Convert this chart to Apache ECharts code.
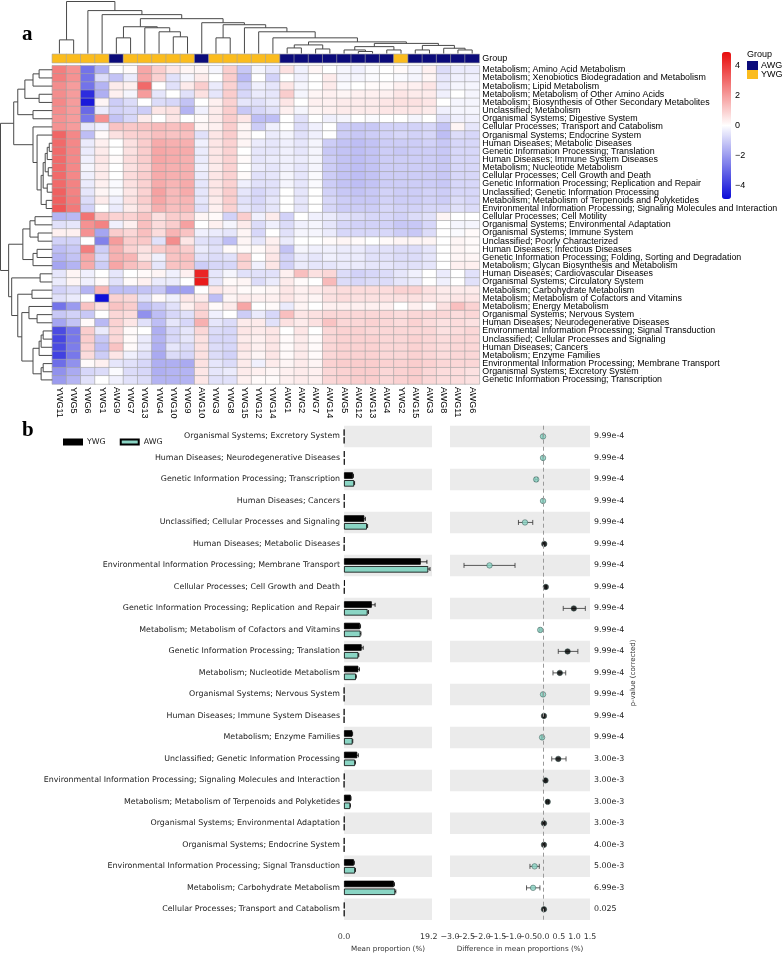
<!DOCTYPE html>
<html><head><meta charset="utf-8">
<script src="https://cdn.jsdelivr.net/npm/echarts@6/dist/echarts.min.js"></script>
<style>html,body{margin:0;padding:0;background:#fff}#c{width:784px;height:958px}</style>
</head><body><div id="c"></div><script>
// ---------- Panel a data ----------
const samples = ['YWG11','YWG5','YWG6','YWG1','AWG9','YWG7','YWG13','YWG4','YWG10','YWG9','AWG10','YWG3','YWG8','YWG15','YWG12','YWG14','AWG1','AWG2','AWG7','AWG14','AWG5','AWG12','AWG13','AWG4','YWG2','AWG15','AWG3','AWG8','AWG11','AWG6'];
const groupNames = ['AWG','YWG'];
const pathways = [
'Metabolism; Amino Acid Metabolism','Metabolism; Xenobiotics Biodegradation and Metabolism','Metabolism; Lipid Metabolism','Metabolism; Metabolism of Other Amino Acids','Metabolism; Biosynthesis of Other Secondary Metabolites','Unclassified; Metabolism','Organismal Systems; Digestive System','Cellular Processes; Transport and Catabolism','Organismal Systems; Endocrine System','Human Diseases; Metabolic Diseases','Genetic Information Processing; Translation','Human Diseases; Immune System Diseases','Metabolism; Nucleotide Metabolism','Cellular Processes; Cell Growth and Death','Genetic Information Processing; Replication and Repair','Unclassified; Genetic Information Processing','Metabolism; Metabolism of Terpenoids and Polyketides','Environmental Information Processing; Signaling Molecules and Interaction','Cellular Processes; Cell Motility','Organismal Systems; Environmental Adaptation','Organismal Systems; Immune System','Unclassified; Poorly Characterized','Human Diseases; Infectious Diseases','Genetic Information Processing; Folding, Sorting and Degradation','Metabolism; Glycan Biosynthesis and Metabolism','Human Diseases; Cardiovascular Diseases','Organismal Systems; Circulatory System','Metabolism; Carbohydrate Metabolism','Metabolism; Metabolism of Cofactors and Vitamins','Metabolism; Energy Metabolism','Organismal Systems; Nervous System','Human Diseases; Neurodegenerative Diseases','Environmental Information Processing; Signal Transduction','Unclassified; Cellular Processes and Signaling','Human Diseases; Cancers','Metabolism; Enzyme Families','Environmental Information Processing; Membrane Transport','Organismal Systems; Excretory System','Genetic Information Processing; Transcription'];
const heat = [
[2.6,2.2,-2.8,-1.6,0.0,0.1,1.8,1.0,0.5,0.2,0.2,-0.2,1.0,-1.1,-0.2, -0.5,0.6,-0.3,0.2,0.0,-0.2,-0.3,-0.1,0.0,0.1,-0.2,0.3,-0.7,-0.4,-0.4],
[2.6,2.2,-2.8,-0.7,-1.2,-0.4,1.8,0.9,-0.6,-0.2,0.4,0.0,1.0,-1.4,0.0, -0.9,0.0,-0.3,0.0,0.4,-0.2,-0.2,-0.1,0.0,-0.1,-0.2,0.2,-0.5,-0.3,-0.3],
[2.3,2.0,-2.8,-1.5,0.4,0.3,3.0,0.0,-0.6,0.4,1.0,-0.4,0.9,-1.0,-0.3, -0.5,0.5,-0.2,0.0,0.4,-0.1,0.0,0.1,0.1,0.3,0.3,0.5,-0.4,-0.2,-0.2],
[2.3,2.0,-4.2,-1.6,0.3,-0.2,2.0,-0.5,0.0,-0.6,0.6,-0.5,1.0,-0.8,-0.4, -0.5,1.0,-0.2,0.2,0.3,0.2,0.3,0.3,0.3,0.5,0.4,0.4,-0.3,0.0,-0.2],
[2.4,2.0,-4.6,0.2,-1.0,-0.7,0.0,-0.7,-0.8,-1.2,0.0,0.3,0.9,-0.5,-0.6, -0.4,0.5,0.0,0.3,0.3,0.4,0.4,0.4,0.5,0.6,0.6,0.5,0.0,-0.2,-0.2],
[2.3,2.0,-3.0,-0.4,-0.9,-0.8,-1.0,0.5,0.6,-1.5,-0.3,0.4,1.0,-1.1,-0.8, -0.6,0.3,-0.2,0.2,0.3,0.4,0.4,0.4,0.5,0.5,0.5,0.4,-0.3,-0.2,-0.2],
[2.2,2.0,-2.7,2.2,-1.2,-0.8,0.4,0.0,0.5,0.0,0.1,0.4,1.0,0.5,-1.3, -1.3,0.0,-0.6,0.0,-0.3,-0.2,0.0,-0.1,0.0,0.0,-0.2,0.0,-0.6,-0.3,-0.3],
[2.2,2.0,-0.5,-0.3,1.2,1.1,1.2,1.4,1.3,1.5,0.2,0.3,1.0,0.2,-1.0, -0.3,0.0,-0.7,-0.3,0.0,-1.0,-1.1,-1.1,-0.9,-0.9,-0.9,-0.8,-1.2,0.2,-0.5],
[3.1,2.4,-1.3,0.1,0.6,0.9,1.0,1.3,1.2,1.3,-0.6,0.5,1.0,0.2,0.0, -0.4,-0.2,-0.6,-0.3,0.0,-1.0,-1.1,-1.0,-0.9,-0.8,-0.9,-0.8,-1.3,-0.7,-0.8],
[3.0,2.4,-0.4,0.3,0.0,0.6,1.0,1.7,1.6,1.6,-0.3,0.5,0.9,0.2,-0.4, -0.5,-0.3,-0.5,-0.2,-1.0,-1.2,-1.3,-1.2,-1.0,-1.0,-1.0,-0.9,-1.1,-0.8,-0.8],
[3.0,2.4,-0.4,0.4,0.0,0.6,1.0,1.8,1.7,1.7,-0.4,0.5,0.9,0.0,-0.5, -0.5,-0.3,-0.5,-0.2,-1.1,-1.2,-1.3,-1.2,-1.0,-1.1,-1.0,-1.0,-1.1,-0.8,-0.8],
[3.0,2.4,-0.3,0.5,0.1,0.7,1.0,1.8,1.7,1.6,-0.4,0.5,0.9,0.1,-0.5, -0.4,-0.3,-0.4,-0.2,-1.0,-1.2,-1.3,-1.2,-1.0,-1.0,-1.0,-1.0,-1.1,-0.8,-0.8],
[3.0,2.4,-0.2,0.4,0.0,0.6,0.9,1.7,1.6,1.6,-0.3,0.4,0.9,0.0,-0.4, -0.5,-0.3,-0.5,-0.2,-1.0,-1.2,-1.3,-1.2,-1.0,-1.0,-1.0,-1.0,-1.1,-0.8,-0.8],
[3.0,2.4,-0.3,0.4,0.0,0.7,1.0,1.7,1.6,1.6,-0.4,0.5,0.9,0.1,-0.6, -0.5,-0.2,-0.5,-0.1,-1.0,-1.2,-1.3,-1.2,-1.0,-1.0,-1.0,-1.0,-1.1,-0.8,-0.8],
[3.0,2.5,-0.4,0.3,-0.1,0.6,0.9,1.7,1.5,1.7,-0.5,0.5,0.9,-0.3,-0.6, -0.6,-0.2,-0.5,-0.1,-1.0,-1.2,-1.3,-1.2,-1.0,-1.0,-1.0,-1.0,-1.1,-0.8,-0.8],
[3.2,2.5,-0.5,0.2,-0.1,0.5,0.9,1.9,1.4,1.7,-0.5,0.5,1.0,-0.5,-0.8, -0.6,0.0,-0.5,0.0,-0.9,-1.1,-1.2,-1.1,-0.9,-1.0,-1.0,-0.9,-1.0,-0.8,-0.8],
[3.2,2.6,-0.7,0.4,-0.3,0.6,1.0,1.8,1.4,1.5,-0.5,0.4,1.0,-0.6,-0.8, -0.5,0.0,-0.5,0.0,-0.8,-1.0,-1.1,-1.1,-0.9,-1.0,-1.0,-0.9,-1.0,-0.7,-0.8],
[3.4,2.7,-0.9,0.0,-0.4,0.4,0.8,1.6,1.3,1.4,-0.6,0.3,0.9,-0.5,-0.7, -0.5,0.0,-0.5,0.0,-0.8,-1.0,-1.0,-1.0,-0.8,-0.9,-0.9,-0.8,-0.8,-0.6,-0.7],
[-1.5,-1.4,2.8,1.2,0.9,0.9,1.2,0.6,1.0,1.0,0.2,0.1,-0.9,1.0,-0.3, 0.4,-0.9,0.0,-0.3,-0.4,-0.6,-0.7,-0.8,-0.8,-0.9,-0.7,-0.6,0.2,0.0,0.0],
[-0.6,-0.5,2.2,2.5,-0.3,0.3,1.3,0.7,1.0,1.9,0.0,0.3,-0.2,0.4,-0.7, -0.3,-0.7,-0.3,-0.2,-0.5,-0.8,-0.9,-0.9,-0.9,-1.1,-1.1,-0.8,0.0,-0.2,-0.2],
[0.3,0.3,2.2,-1.8,1.0,0.8,1.3,0.7,1.5,1.2,-0.3,-0.4,-0.5,0.2,-0.8, 0.0,-0.6,-0.2,-0.2,-0.4,-0.8,-0.8,-0.8,-0.8,-1.0,-1.1,-0.7,0.0,-0.1,0.1],
[-0.9,-0.9,0.0,-2.5,2.0,1.0,1.1,-0.6,2.3,0.5,-0.6,-0.7,-1.3,0.2,-0.5, 0.3,-0.4,0.0,0.0,0.1,0.2,0.1,0.0,0.1,0.2,0.2,0.2,0.0,0.2,0.1],
[-1.3,-1.1,2.6,-1.0,1.6,0.9,0.6,1.0,1.3,1.0,-0.4,-0.6,0.1,0.1,0.1, 0.4,-1.2,-0.2,-0.3,-0.3,-0.4,-0.4,-0.6,-0.6,-0.7,-0.7,-0.5,0.0,0.2,0.1],
[-1.5,-1.2,1.8,-0.8,1.6,1.5,0.5,-0.3,1.2,1.3,-0.6,-0.7,-0.6,1.0,0.0, 0.5,-0.9,-0.4,-0.5,-0.3,-0.4,-0.4,-0.6,-0.6,-0.7,-0.7,-0.5,0.0,0.2,0.2],
[-1.8,-1.5,1.7,-1.0,1.8,1.3,1.0,-0.5,1.2,1.2,-1.0,-0.8,-0.8,0.9,-0.3, 0.5,-0.9,-0.4,-0.5,-0.5,-0.4,-0.4,-0.5,-0.5,-0.6,-0.6,-0.5,0.0,0.3,0.3],
[-0.5,0.2,-0.3,0.0,-0.5,0.0,0.1,0.2,-0.3,0.3,4.4,-0.5,-0.2,-0.6,-0.6, -0.6,0.3,1.3,0.6,0.8,-0.7,-0.9,-0.8,-0.7,-0.5,-0.3,0.0,-0.4,0.0,-0.6],
[-0.4,0.2,-0.3,0.1,-0.6,0.1,0.3,-0.4,-0.4,0.0,4.6,-0.5,0.1,0.2,-0.7, -0.4,0.4,0.1,0.0,1.4,-0.7,-0.8,-0.7,-0.7,-0.5,-0.4,0.0,-0.3,0.0,-0.6],
[-0.9,-0.7,-1.5,1.5,-1.3,-1.3,-1.2,-1.1,-1.9,-1.9,0.0,0.5,0.3,0.1,0.1, 0.2,0.5,0.3,0.4,0.6,0.7,0.7,0.7,0.7,0.9,0.9,0.6,0.4,0.4,0.4],
[-0.6,-0.4,0.0,-4.8,0.9,0.8,-0.6,0.1,-0.3,0.5,0.4,-1.3,0.2,0.4,0.3, 0.3,0.5,0.3,0.2,0.6,0.7,0.6,0.6,0.6,0.6,0.6,0.5,0.4,0.5,0.5],
[-2.8,-2.0,1.2,0.6,1.2,1.0,-1.3,-1.0,-0.6,0.3,0.8,0.1,0.4,1.8,0.0, 0.1,-0.4,0.2,0.0,0.3,0.3,0.3,0.3,0.3,0.0,0.3,0.1,0.6,1.3,0.9],
[-1.1,-0.9,-1.1,0.0,0.8,0.7,-2.2,-1.3,-0.8,-0.6,0.9,-0.3,0.0,-1.0,-0.4, -0.8,1.3,0.5,0.6,0.8,0.8,0.8,0.8,0.8,0.7,0.8,0.8,0.8,0.7,0.8],
[-1.8,-1.2,0.1,-1.4,0.9,0.5,-0.6,-1.3,-0.5,-0.8,1.6,-0.5,-0.7,0.4,0.4, -0.6,0.6,0.4,0.6,1.2,0.8,0.8,0.9,0.8,0.7,0.9,0.7,0.6,0.7,0.6],
[-3.6,-2.7,1.0,-0.4,0.8,0.1,0.0,-1.6,-0.8,-0.5,0.8,-0.7,-0.8,0.5,0.4, 0.5,0.0,0.5,0.0,0.8,0.9,0.9,0.8,0.8,0.8,0.8,0.8,0.6,0.7,0.8],
[-3.7,-2.7,1.0,-1.1,0.8,0.1,-0.4,-1.5,-0.8,-0.5,0.6,-0.8,-0.8,0.4,0.3, 0.5,0.1,0.4,0.1,0.8,0.9,0.9,0.9,0.8,0.8,0.9,0.8,0.7,0.8,0.8],
[-3.6,-2.6,0.9,-1.3,1.2,0.1,-0.4,-1.6,-0.5,-0.7,0.6,-0.7,-0.8,0.5,0.3, 0.5,0.1,0.4,0.1,0.8,0.9,0.9,0.9,0.8,0.8,0.9,0.8,0.7,0.8,0.8],
[-3.8,-2.7,0.7,-1.0,0.5,-0.3,-0.6,-1.7,-0.7,-0.8,0.6,-0.7,-0.9,0.4,0.2, 0.5,0.1,0.4,0.1,0.8,0.9,0.9,0.9,0.8,0.8,0.9,0.8,0.7,0.8,0.8],
[-2.9,-2.2,0.1,0.3,-0.5,-0.6,-0.8,-1.6,-1.6,-1.7,0.6,-0.5,-0.7,0.4,-0.3, 0.4,0.2,0.4,0.2,0.9,1.0,1.0,1.0,0.9,0.9,1.0,0.9,0.8,0.8,0.8],
[-2.2,-1.7,-0.8,-0.7,-0.1,-0.7,-0.8,-1.6,-1.5,-1.5,0.5,-0.5,-0.4,0.4,0.3, 0.2,0.3,0.4,0.3,0.8,0.9,1.0,1.0,0.8,0.9,1.0,0.8,0.7,0.7,0.6],
[-2.0,-1.5,-0.6,0.0,-0.3,-0.6,-0.7,-1.5,-1.5,-1.5,0.5,-0.6,-0.6,0.3,0.1, 0.1,0.3,0.4,0.3,0.8,0.9,1.0,1.0,0.8,0.9,1.0,0.8,0.7,0.7,0.6]];
const colorTicks = [-4,-2,0,2,4];
// dendrograms: [childA, childB, height]; leaves 0..n-1, merged nodes numbered n, n+1, ... in list order
const colMerges = [
[0,1,13.5],[4,5,15.5],[8,9,16.5],[7,32,21.5],[6,33,25.5],[31,34,26.5],
[11,12,15.5],[16,17,5.5],[18,19,4.5],[37,38,8.5],[21,22,2],[20,40,3.5],[23,24,3.5],[41,42,6.8],
[25,26,3.5],[28,29,3.5],[27,45,5.2],[44,46,8],[43,47,10],[39,48,11.5],
[15,49,15.5],[14,50,21.5],[13,51,25.5],[36,52,28.5],[10,53,30.5],[35,54,34.5],[3,55,38.5],[2,56,42.5],[30,57,51.5]];
const rowMerges = [
[0,1,13],[39,2,19],[3,4,13],[40,41,27],[5,6,19],[42,43,34],
[9,10,3],[45,11,5],[12,13,4],[46,47,7],[14,15,5],[48,49,9],[16,17,6],[50,51,11],[8,52,15],[7,53,19],
[44,54,38],
[18,19,17],[20,21,14],[56,57,22],[22,23,15],[59,24,19],[58,60,29],
[25,26,12],[27,28,20],
[30,31,15],[29,64,23],[32,33,9],[66,34,11],[67,35,13],[36,37,9],[69,38,11],[68,70,19],[65,71,30],
[63,72,34],[62,73,40],[61,74,43],
[55,75,51]];

// ---------- Panel b data ----------
const bCategories = ['Organismal Systems; Excretory System','Human Diseases; Neurodegenerative Diseases','Genetic Information Processing; Transcription','Human Diseases; Cancers','Unclassified; Cellular Processes and Signaling','Human Diseases; Metabolic Diseases','Environmental Information Processing; Membrane Transport','Cellular Processes; Cell Growth and Death','Genetic Information Processing; Replication and Repair','Metabolism; Metabolism of Cofactors and Vitamins','Genetic Information Processing; Translation','Metabolism; Nucleotide Metabolism','Organismal Systems; Nervous System','Human Diseases; Immune System Diseases','Metabolism; Enzyme Families','Unclassified; Genetic Information Processing','Environmental Information Processing; Signaling Molecules and Interaction','Metabolism; Metabolism of Terpenoids and Polyketides','Organismal Systems; Environmental Adaptation','Organismal Systems; Endocrine System','Environmental Information Processing; Signal Transduction','Metabolism; Carbohydrate Metabolism','Cellular Processes; Transport and Catabolism'];
const ywgMean = [0.05,0.12,2.05,0.1,4.6,0.1,17.4,0.2,6.3,3.65,4.0,3.25,0.05,0.06,1.9,3.0,0.1,1.55,0.1,0.08,2.25,11.3,0.1];
const awgMean = [0.06,0.13,2.3,0.11,5.2,0.07,19.1,0.12,5.35,3.75,3.25,2.7,0.06,0.04,1.94,2.5,0.03,1.41,0.08,0.06,2.5,11.6,0.08];
const ywgErr  = [0,0,0.1,0,0.25,0,1.4,0,0.75,0.1,0.35,0.25,0,0,0.05,0.25,0,0.05,0,0,0.1,0.15,0];
const awgErr  = [0,0,0.1,0,0.15,0,0.4,0,0.2,0.1,0.1,0.1,0,0,0.05,0.1,0,0.05,0,0,0.1,0.15,0];
const diffMean = [-0.01,-0.01,-0.23,-0.01,-0.59,0.03,-1.73,0.08,0.98,-0.10,0.78,0.53,-0.01,0.02,-0.04,0.48,0.07,0.14,0.02,0.02,-0.28,-0.33,0.02];
const diffLow  = [-0.02,-0.02,-0.27,-0.02,-0.80,0.01,-2.55,0.06,0.64,-0.13,0.48,0.31,-0.02,0.01,-0.06,0.27,0.05,0.11,0.01,0.01,-0.43,-0.54,0.01];
const diffHigh = [0.00,0.00,-0.19,0.00,-0.34,0.05,-0.91,0.10,1.35,-0.07,1.11,0.72,0.00,0.03,-0.02,0.73,0.09,0.17,0.03,0.03,-0.13,-0.11,0.03];
const pValues = ['9.99e-4','9.99e-4','9.99e-4','9.99e-4','9.99e-4','9.99e-4','9.99e-4','9.99e-4','9.99e-4','9.99e-4','9.99e-4','9.99e-4','9.99e-4','9.99e-4','9.99e-4','3.00e-3','3.00e-3','3.00e-3','3.00e-3','4.00e-3','5.00e-3','6.99e-3','0.025'];
const diffTicksA = [-3, -2, -1, 0, 1];
const diffTicksB = [-2.5, -1.5, -0.5, 0.5, 1.5];

// ---------- build ----------
const YW = '#000000', AW = '#8ad5c4';
const heatData = [];
heat.forEach((row, r) => row.forEach((v, c) => heatData.push([c, r, v])));
const groupData = samples.map((s, c) => [c, 0, s.startsWith('AWG') ? 0 : 1]);

function dendroSegments(merges, n) {
  const pos = [], ht = [], segs = [];
  for (let i = 0; i < n; i++) { pos[i] = i + 0.5; ht[i] = 0; }
  merges.forEach((m, k) => {
    const [a, b, h] = m, id = n + k;
    pos[id] = (pos[a] + pos[b]) / 2; ht[id] = h;
    segs.push([pos[a], ht[a], pos[a], h]);
    segs.push([pos[b], ht[b], pos[b], h]);
    segs.push([pos[a], h, pos[b], h]);
  });
  return segs;
}
const colSegs = dendroSegments(colMerges, samples.length);
const rowSegs = dendroSegments(rowMerges, pathways.length).map(s => [s[1], s[0], s[3], s[2]]);
const colMax = Math.max(...colMerges.map(m => m[2]));
const rowMax = Math.max(...rowMerges.map(m => m[2]));

const lineItem = (params, api) => {
  const p1 = api.coord([api.value(0), api.value(1)]);
  const p2 = api.coord([api.value(2), api.value(3)]);
  return { type: 'line', shape: { x1: p1[0], y1: p1[1], x2: p2[0], y2: p2[1] }, style: { stroke: '#4a4a4a', lineWidth: 1 } };
};

const HX = 52.3, HW = 427, HT = 65.7, HH = 318.3;
const BT = 425.7, BH = 500.9;
const sansA = 'Liberation Sans, Arial, sans-serif';
const sansB = 'DejaVu Sans, sans-serif';
const hidden = { show: false };
const fmtDiff = v => (v < 0 ? '\u2212' + Math.abs(v).toFixed(1) : v.toFixed(1));
const diffLabel = vals => ({ customValues: vals, formatter: fmtDiff, fontSize: 7.9, fontFamily: sansB, color: '#333', margin: 4 });

const barErrData = [];
ywgMean.forEach((v, i) => barErrData.push([v, ywgErr[i], i, 0]));
awgMean.forEach((v, i) => barErrData.push([v, awgErr[i], i, 1]));

const option = {
  animation: false,
  backgroundColor: '#fff',
  graphic: [
    { type: 'text', left: 22, top: 24, style: { text: 'a', font: 'bold 21px Liberation Serif, serif', fill: '#000' } },
    { type: 'text', left: 22, top: 420, style: { text: 'b', font: 'bold 21px Liberation Serif, serif', fill: '#000' } },
    { type: 'text', left: 747, top: 50, style: { text: 'Group', font: '9px ' + sansA, fill: '#000' } }
  ],
  grid: [
    { left: HX, top: HT, width: HW, height: HH },
    { left: HX, top: 54.3, width: HW, height: 8.4 },
    { left: HX, top: 1.5, width: HW, height: 52 },
    { left: 0.5, top: HT, width: 51.8, height: HH },
    { left: 722, top: 52, width: 9, height: 147 },
    { left: 344, top: BT, width: 88, height: BH },
    { left: 450, top: BT, width: 140, height: BH }
  ],
  xAxis: [
    { gridIndex: 0, type: 'category', data: samples, axisLine: hidden, axisTick: hidden,
      axisLabel: { rotate: -90, interval: 0, margin: 3, fontSize: 9, fontFamily: sansA, color: '#000' } },
    { gridIndex: 1, type: 'category', data: samples, show: false },
    { gridIndex: 2, type: 'value', min: 0, max: samples.length, show: false },
    { gridIndex: 3, type: 'value', min: 0, max: rowMax, inverse: true, show: false },
    { gridIndex: 4, type: 'value', show: false },
    { gridIndex: 5, type: 'value', min: 0, max: 19.95, offset: 9,
      axisLine: { lineStyle: { color: '#999' } },
      axisTick: { customValues: [0, 19.2], length: 3, lineStyle: { color: '#999' } },
      axisLabel: { customValues: [0, 19.2], formatter: v => v.toFixed(1), fontSize: 7.9, fontFamily: sansB, color: '#333', margin: 4 },
      splitLine: hidden,
      name: 'Mean proportion (%)', nameLocation: 'middle', nameGap: 14,
      nameTextStyle: { fontSize: 7.2, fontFamily: sansB, color: '#333' } },
    { gridIndex: 6, type: 'value', min: -3, max: 1.5, interval: 0.5, offset: 9,
      axisLine: { lineStyle: { color: '#999' } },
      axisTick: { length: 3, lineStyle: { color: '#999' } },
      axisLabel: diffLabel(diffTicksA),
      splitLine: hidden,
      name: 'Difference in mean proportions (%)', nameLocation: 'middle', nameGap: 14,
      nameTextStyle: { fontSize: 7.2, fontFamily: sansB, color: '#333' } },
    { gridIndex: 6, type: 'value', min: -3, max: 1.5, offset: 9, position: 'bottom',
      axisLine: hidden, axisTick: hidden, splitLine: hidden, axisLabel: diffLabel(diffTicksB) }
  ],
  yAxis: [
    { gridIndex: 0, type: 'category', data: pathways, inverse: true, position: 'right', axisLine: hidden, axisTick: hidden,
      axisLabel: { interval: 0, margin: 3, fontSize: 8.9, fontFamily: sansA, color: '#000', lineHeight: 9 } },
    { gridIndex: 1, type: 'category', data: ['Group'], position: 'right', axisLine: hidden, axisTick: hidden,
      axisLabel: { margin: 3, fontSize: 9, fontFamily: sansA, color: '#000' } },
    { gridIndex: 2, type: 'value', min: 0, max: colMax, show: false },
    { gridIndex: 3, type: 'value', min: 0, max: pathways.length, inverse: true, show: false },
    { gridIndex: 4, type: 'value', min: -4.9, max: 4.9, position: 'right', axisLine: hidden, axisTick: hidden, splitLine: hidden,
      axisLabel: { customValues: colorTicks, formatter: v => (v < 0 ? '\u2212' + Math.abs(v) : String(v)), margin: 4, fontSize: 9, fontFamily: sansA, color: '#000' } },
    { gridIndex: 5, type: 'category', data: bCategories, inverse: true, axisLine: hidden, axisTick: hidden,
      axisLabel: { interval: 0, margin: 4, fontSize: 7.9, fontFamily: sansB, color: '#222' },
      splitArea: { show: true, areaStyle: { color: ['#ebebeb', 'rgba(255,255,255,0)'] } } },
    { gridIndex: 6, type: 'category', data: bCategories, inverse: true, axisLine: hidden, axisTick: hidden, axisLabel: hidden,
      splitArea: { show: true, areaStyle: { color: ['#ebebeb', 'rgba(255,255,255,0)'] } } },
    { gridIndex: 6, type: 'category', data: pValues, inverse: true, position: 'right', axisLine: hidden, axisTick: hidden,
      axisLabel: { interval: 0, margin: 4, fontSize: 7.9, fontFamily: sansB, color: '#222' },
      name: 'p-value (corrected)', nameLocation: 'middle', nameRotate: 90, nameGap: 40,
      nameTextStyle: { fontSize: 7, fontFamily: sansB, color: '#333' } }
  ],
  visualMap: [
    { type: 'continuous', seriesIndex: 0, min: -4.9, max: 4.9, calculable: false, left: 722, top: 52, itemWidth: 9, itemHeight: 147,
      padding: 0, text: null, inRange: { color: ['#0a0ad8', '#ffffff', '#e80c0c'] }, textStyle: { fontSize: 0 } },
    { type: 'piecewise', seriesIndex: 1, dimension: 2, left: 747, top: 61, orient: 'vertical', itemWidth: 11, itemHeight: 9, itemGap: 0,
      align: 'left', inverse: true,
      itemSymbol: 'rect', selectedMode: false, padding: 0, textGap: 3, textStyle: { fontSize: 9, fontFamily: sansA, color: '#000' },
      pieces: [{ value: 0, label: groupNames[0], color: '#0b0b7a' }, { value: 1, label: groupNames[1], color: '#fbbc1e' }] }
  ],
  legend: { data: ['YWG', 'AWG'], left: 58, top: 433, itemWidth: 18, itemHeight: 5, itemGap: 14, icon: 'rect',
    textStyle: { fontSize: 7.9, fontFamily: sansB, color: '#222' }, selectedMode: false },
  series: [
    { type: 'heatmap', xAxisIndex: 0, yAxisIndex: 0, data: heatData, itemStyle: { borderColor: '#a3a3a3', borderWidth: 0.6 } },
    { type: 'heatmap', xAxisIndex: 1, yAxisIndex: 1, data: groupData, itemStyle: { borderColor: '#a3a3a3', borderWidth: 0.6 } },
    { type: 'custom', xAxisIndex: 2, yAxisIndex: 2, data: colSegs, renderItem: lineItem, encode: { x: [0, 2], y: [1, 3] }, silent: true },
    { type: 'custom', xAxisIndex: 3, yAxisIndex: 3, data: rowSegs, renderItem: lineItem, encode: { x: [0, 2], y: [1, 3] }, silent: true },
    { name: 'YWG', type: 'bar', xAxisIndex: 5, yAxisIndex: 5, data: ywgMean, barWidth: 6.5, barGap: '20%',
      itemStyle: { color: YW, borderColor: '#000', borderWidth: 0.8 } },
    { name: 'AWG', type: 'bar', xAxisIndex: 5, yAxisIndex: 5, data: awgMean, barWidth: 6.5,
      itemStyle: { color: AW, borderColor: '#000', borderWidth: 0.8 } },
    { type: 'custom', xAxisIndex: 5, yAxisIndex: 5, data: barErrData, encode: { x: 0, y: 2 }, silent: true,
      renderItem: (params, api) => {
        const v = api.value(0), e = api.value(1);
        if (!e) return null;
        const off = api.value(3) === 0 ? -3.6 : 3.6;
        const a = api.coord([v - e, api.value(2)]), b = api.coord([v + e, api.value(2)]);
        const y = a[1] + off;
        return { type: 'group', children: [
          { type: 'line', shape: { x1: a[0], y1: y, x2: b[0], y2: y }, style: { stroke: '#000', lineWidth: 0.8 } },
          { type: 'line', shape: { x1: b[0], y1: y - 2, x2: b[0], y2: y + 2 }, style: { stroke: '#000', lineWidth: 0.8 } }] };
      } },
    { type: 'custom', xAxisIndex: 6, yAxisIndex: 6, data: diffLow.map((l, i) => [l, diffHigh[i], i]), encode: { x: [0, 1], y: 2 }, silent: true,
      renderItem: (params, api) => {
        const a = api.coord([api.value(0), api.value(2)]), b = api.coord([api.value(1), api.value(2)]);
        const st = { stroke: '#333', lineWidth: 0.8 };
        return { type: 'group', children: [
          { type: 'line', shape: { x1: a[0], y1: a[1], x2: b[0], y2: b[1] }, style: st },
          { type: 'line', shape: { x1: a[0], y1: a[1] - 2.5, x2: a[0], y2: a[1] + 2.5 }, style: st },
          { type: 'line', shape: { x1: b[0], y1: b[1] - 2.5, x2: b[0], y2: b[1] + 2.5 }, style: st }] };
      } },
    { type: 'scatter', xAxisIndex: 6, yAxisIndex: 6, data: diffMean.map((d, i) => [d, i]), symbolSize: 5.5,
      itemStyle: { color: p => (p.data[0] > 0 ? YW : AW), borderColor: '#2f4f4a', borderWidth: 0.6 },
      markLine: { silent: true, symbol: 'none', label: hidden, data: [{ xAxis: 0 }],
        lineStyle: { type: [4, 3], color: '#9a9a9a', width: 1 } } }
  ]
};
const chart = echarts.init(document.getElementById('c'), null, { renderer: 'canvas' });
chart.setOption(option);
</script></body></html>
